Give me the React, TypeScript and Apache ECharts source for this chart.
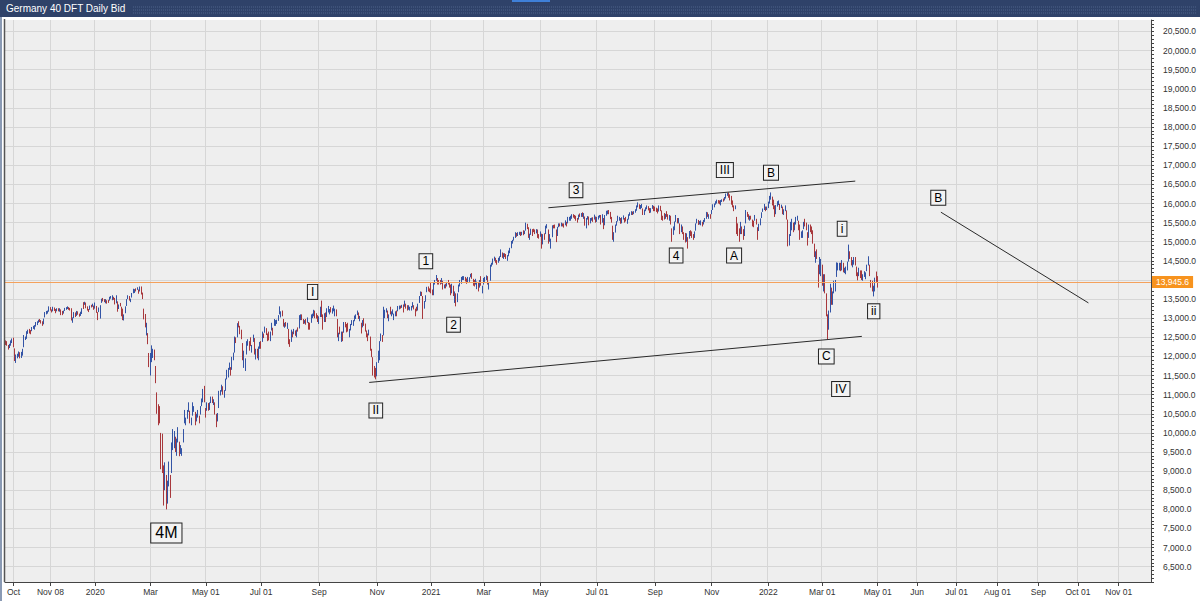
import React, { useEffect, useRef } from "react";
import * as echarts from "echarts";

// ---------- calendar ----------
const firstDay = "2019-09-23";
const lastTradingDay = "2022-05-02";
const lastAxisDay = "2022-11-25";
const closedDays = [
  "2019-12-24", "2019-12-25", "2019-12-26", "2019-12-31", "2020-01-01",
  "2020-04-10", "2020-04-13", "2020-05-01", "2020-12-24", "2020-12-25",
  "2020-12-31", "2021-01-01", "2021-04-02", "2021-04-05", "2021-12-24",
  "2021-12-31", "2022-04-15", "2022-04-18",
];

// tick labels: [first date on or after, text]
const tickLabels: [string, string][] = [
  ["2019-10-01", "Oct"], ["2019-11-08", "Nov 08"], ["2020-01-01", "2020"],
  ["2020-03-01", "Mar"], ["2020-05-01", "May 01"], ["2020-07-01", "Jul 01"],
  ["2020-09-01", "Sep"], ["2020-11-01", "Nov"], ["2021-01-01", "2021"],
  ["2021-03-01", "Mar"], ["2021-05-01", "May"], ["2021-07-01", "Jul 01"],
  ["2021-09-01", "Sep"], ["2021-11-01", "Nov"], ["2022-01-01", "2022"],
  ["2022-03-01", "Mar 01"], ["2022-05-01", "May 01"], ["2022-06-01", "Jun"],
  ["2022-07-01", "Jul 01"], ["2022-08-01", "Aug 01"], ["2022-09-01", "Sep"],
  ["2022-10-01", "Oct 01"], ["2022-11-01", "Nov 01"],
];

// y labels hidden behind the last-price tag
const hiddenYLabels = [14000];

// ---------- daily candles [open, close, low, high] ----------
const ohlc2019 = [
  [12380,12342,12300,12420],[12350,12307,12280,12400],[12270,12234,12180,12300],[12260,12289,12220,12330],[12300,12381,12280,12420],[12370,12428,12350,12470],
  [12430,12263,12240,12490],[12200,11925,11880,12210],[11900,12014,11830,12050],[12000,12013,11950,12070],[12050,12097,11990,12130],[12080,11970,11950,12110],[11990,12094,11960,12120],[12080,12164,12020,12200],[12250,12512,12240,12560],[12480,12486,12430,12520],[12500,12629,12460,12660],[12610,12670,12590,12700],[12680,12654,12600,12720],[12660,12634,12580,12690],[12680,12748,12660,12770],[12750,12754,12720,12800],[12730,12798,12700,12820],[12820,12872,12780,12900],[12860,12895,12820,12920],[12910,12941,12880,12960],[12940,12939,12900,12980],[12920,12910,12860,12950],[12900,12867,12800,12920],
  [12870,12961,12840,12990],[13030,13136,13020,13160],[13140,13148,13100,13190],[13150,13179,13120,13200],[13190,13289,13170,13310],[13270,13228,13200,13290],[13200,13198,13150,13230],[13210,13283,13180,13300],[13260,13230,13190,13280],[13220,13180,13130,13240],[13200,13241,13180,13260],[13240,13207,13180,13260],[13220,13221,13170,13260],[13200,13168,13080,13230],[13150,13137,13080,13190],[13150,13163,13120,13200],[13200,13247,13190,13270],[13250,13264,13220,13290],[13270,13287,13240,13310],[13280,13245,13220,13290],[13240,13236,13200,13270],
  [13240,12965,12940,13260],[12950,12989,12880,13020],[13020,13140,13000,13160],[13130,13055,13030,13150],[13080,13167,13060,13190],[13160,13106,13090,13180],[13100,13071,13040,13120],[13080,13146,13060,13170],[13150,13222,13110,13260],[13300,13283,13240,13420],[13380,13407,13350,13430],[13400,13288,13260,13410],[13290,13222,13200,13310],[13220,13212,13160,13240],[13240,13319,13220,13330],[13320,13301,13280,13350],[13320,13337,13300,13380],[13320,13249,13220,13330],
];
const ohlc2020 = [
  [13260,13386,13250,13410],[13290,13219,13140,13320],[13150,13127,12950,13160],[13180,13227,13160,13280],[13100,13321,12990,13340],[13420,13495,13400,13510],[13500,13483,13440,13530],[13480,13452,13420,13500],[13450,13456,13390,13500],[13440,13432,13380,13470],[13450,13430,13400,13480],[13470,13526,13460,13560],[13530,13548,13510,13580],[13540,13556,13470,13600],[13530,13515,13480,13560],[13510,13389,13360,13530],[13400,13577,13390,13600],[13420,13205,13170,13440],[13250,13324,13240,13360],[13350,13345,13310,13400],[13290,13158,13050,13300],[13220,12982,12950,13250],
  [13010,13045,12940,13100],[13150,13282,13130,13310],[13330,13478,13320,13500],[13510,13575,13500,13600],[13550,13514,13460,13580],[13450,13494,13420,13510],[13550,13628,13540,13660],[13660,13750,13650,13770],[13710,13746,13660,13760],[13760,13745,13700,13780],[13770,13784,13740,13810],[13730,13681,13640,13750],[13710,13789,13700,13830],[13800,13665,13620,13830],[13640,13579,13500,13670],[13240,13035,12970,13250],[13080,12790,12760,13110],[12650,12775,12550,12880],[12580,12367,12320,12610],[11960,11890,11720,12090],
  [11800,11857,11500,12090],[11960,12128,11850,12290],[12050,12127,11960,12200],[12100,11944,11900,12180],[11620,11541,11300,11750],[11050,10625,10500,11060],[10600,10475,10200,10750],[10550,10439,10250,10700],[9850,9161,9050,10000],[9400,9232,8950,9980],[8990,8742,8100,9150],[8650,8939,8500,9230],[8800,8442,8000,8900],[8400,8610,8150,8750],[8700,8929,8600,9250],[8800,8741,8300,8900],[9000,9701,8950,9750],[9600,9874,9550,10100],[9750,10000,9600,10050],[9800,9633,9500,9900],[9650,9816,9400,9850],[9850,9936,9750,10150],
  [9700,9544,9390,9770],[9500,9571,9450,9680],[9500,9525,9400,9600],[9800,10075,9750,10100],[10250,10357,10250,10600],[10300,10333,10200,10400],[10400,10565,10370,10600],[10650,10697,10550,10800],[10500,10280,10250,10580],[10300,10301,10200,10400],[10500,10626,10450,10800],[10600,10676,10550,10700],[10500,10250,10200,10550],[10350,10416,10300,10500],[10500,10514,10400,10600],[10400,10336,10250,10450],[10500,10659,10480,10700],[10750,10796,10700,10900],[10850,11107,10800,11150],[11050,10862,10800,11230],
  [10600,10467,10400,10650],[10600,10730,10580,10800],[10750,10607,10580,10780],[10650,10759,10600,10800],[10800,10904,10780,10950],[10900,10825,10780,10950],[10800,10820,10730,10880],[10750,10543,10480,10800],[10450,10337,10150,10500],[10400,10465,10300,10520],[10700,11058,10650,11100],[11050,11075,10980,11120],[11100,11223,11080,11260],[11200,11066,11000,11220],[11000,11074,10920,11120],[11150,11391,11100,11420],[11450,11504,11400,11650],[11500,11657,11450,11700],[11700,11781,11650,11840],[11700,11586,11500,11720],
  [11700,11945,11650,11990],[11950,12021,11900,12100],[12150,12487,12100,12520],[12450,12431,12350,12500],[12550,12848,12500,12870],[12850,12820,12760,12920],[12750,12617,12580,12800],[12650,12530,12450,12700],[12300,11970,11900,12350],[11750,11949,11700,12150],[11800,11911,11620,11950],[12100,12316,12050,12400],[12350,12382,12280,12450],[12300,12281,12150,12400],[12350,12331,12270,12500],[12200,12262,12100,12300],[12400,12523,12380,12570],[12450,12093,12050,12480],[12050,12178,11920,12200],[12150,12089,11950,12200],[12050,12232,11900,12260],[12250,12311,12200,12380],
  [12350,12261,12200,12400],[12400,12608,12380,12650],[12550,12528,12480,12600],[12650,12733,12620,12780],[12720,12616,12560,12740],[12550,12495,12400,12600],[12600,12489,12420,12650],[12450,12633,12400,12650],[12700,12799,12680,12880],[12700,12697,12550,12750],[12850,12931,12800,12980],[12850,12875,12800,12950],[12900,12920,12850,12960],[12950,13046,12930,13080],[13150,13171,13100,13310],[13100,13104,13020,13180],[13150,13103,13050,13200],[12950,12838,12780,12980],[12800,12839,12750,12880],[12850,12835,12780,12900],[12800,12822,12720,12880],[12700,12379,12320,12720],[12400,12313,12250,12450],
  [12400,12647,12380,12700],[12600,12600,12500,12650],[12650,12661,12580,12720],[12640,12591,12540,12680],[12550,12674,12500,12700],[12700,12687,12650,12760],[12750,13053,12730,13080],[13000,13058,12950,13100],[13050,12993,12950,13100],[12950,12901,12850,12980],[12900,12920,12860,12950],[12950,12881,12830,12980],[12900,12977,12880,13020],[12850,12830,12700,12900],[12850,12764,12700,12880],[12900,13067,12880,13100],[13050,13062,13000,13120],[13100,13190,13050,13220],[13150,13096,13000,13200],[13100,13033,12990,13130],[13050,12945,12900,13080],
  [12950,12974,12850,13050],[13050,13243,13030,13300],[13300,13057,13030,13460],[13000,12842,12700,13100],[12950,13100,12900,13130],[13050,12968,12900,13150],[13050,13237,13030,13260],[13200,13208,13150,13320],[13150,13202,13100,13240],[13250,13194,13150,13290],[13200,13218,13120,13260],[13250,13255,13180,13330],[13150,13208,13050,13250],[13150,13116,13050,13230],[12950,12542,12500,12980],[12550,12594,12400,12620],[12650,12642,12580,12780],[12500,12607,12380,12650],[12600,12469,12400,12650],[12650,12871,12620,12900],[12850,12825,12760,12900],[12800,12761,12630,12850],
  [12800,12730,12650,12880],[12600,12689,12500,12720],[12700,12828,12680,12850],[12850,12906,12820,12950],[12850,12928,12800,12950],[12950,13042,12920,13070],[13050,13051,12980,13100],[13100,13139,13080,13200],[13100,13018,12980,13150],[13000,13028,12920,13060],[12850,12704,12600,12880],[12800,12909,12760,12950],[12950,12854,12800,13000],[12800,12737,12650,12860],[12650,12558,12500,12680],[12550,12543,12400,12600],[12600,12646,12550,12700],[12500,12178,12150,12520],[12150,12063,11980,12200],[11950,11561,11500,11980],[11650,11598,11450,11750],[11600,11556,11400,11700],
  [11600,11789,11480,11850],[11850,12089,11830,12150],[12000,12324,11900,12400],[12450,12568,12400,12600],[12500,12480,12380,12560],[12600,13095,12550,13300],[13050,13163,13000,13220],[13200,13217,13150,13260],[13150,13052,13000,13200],[12950,13077,12920,13100],[13200,13139,13100,13300],[13100,13133,13050,13180],[13150,13201,13100,13230],[13050,13087,12950,13120],[13100,13137,13050,13180],[13150,13127,13050,13200],[13200,13292,13180,13320],[13280,13290,13230,13330],[13300,13286,13250,13330],[13300,13335,13270,13350],[13320,13291,13150,13360],
  [13350,13382,13300,13460],[13350,13313,13250,13380],[13300,13252,13200,13340],[13250,13299,13220,13340],[13250,13271,13200,13300],[13250,13278,13200,13320],[13300,13340,13280,13420],[13300,13296,13230,13340],[13200,13114,13050,13250],[13250,13223,13180,13300],[13250,13362,13200,13380],[13450,13565,13400,13580],[13600,13667,13580,13700],[13650,13631,13580,13690],[13550,13246,12980,13580],[13300,13418,13250,13450],[13450,13587,13430,13600],[13700,13790,13680,13820],[13800,13761,13700,13830],[13750,13719,13680,13780],
];
const ohlc2021 = [
  [13750,13727,13650,13920],[13700,13651,13600,13750],[13650,13892,13600,13920],[13900,13968,13880,14000],[14000,14050,13980,14130],[14000,13937,13880,14050],[13950,13925,13880,14000],[13950,13940,13880,14000],[13950,13989,13900,14050],[13950,13788,13750,13980],[13800,13848,13780,13880],[13850,13815,13780,13900],[13850,13922,13830,13950],[13950,13906,13880,14000],[13900,13874,13800,13920],[13850,13644,13600,13880],[13700,13871,13650,13900],[13800,13621,13580,13850],[13550,13665,13400,13700],[13600,13433,13310,13650],
  [13450,13622,13420,13650],[13700,13836,13680,13880],[13850,13934,13830,14000],[13950,14061,13900,14080],[14050,14057,14000,14100],[14050,14060,14000,14100],[14050,14012,13960,14080],[14000,13933,13900,14040],[13950,14040,13920,14080],[14000,14050,13950,14070],[14100,14109,14070,14160],[14120,14064,14030,14180],[14000,13909,13850,14030],[13950,13887,13830,14000],[13900,13993,13880,14030],[13900,13950,13760,13960],[13900,13865,13700,13950],[13850,13976,13800,14000],[14000,13879,13850,14100],[13750,13786,13650,13850],
  [13900,14012,13880,14050],[14000,14039,13950,14080],[14050,14080,14000,14120],[14050,13920,13880,14100],[13850,13920,13750,13950],[14000,14380,13980,14400],[14380,14437,14350,14450],[14450,14540,14400,14560],[14550,14569,14500,14610],[14550,14502,14450,14580],[14500,14461,14400,14520],[14480,14557,14450,14580],[14560,14596,14500,14620],[14650,14775,14600,14800],[14700,14621,14580,14720],[14600,14657,14550,14700],[14680,14662,14600,14700],[14650,14610,14550,14680],[14550,14621,14500,14650],[14650,14748,14620,14770],[14750,14817,14700,14840],[14850,15008,14830,15020],[15000,15008,14950,15050],
  [15050,15107,15030,15130],[15150,15212,15100,15250],[15200,15176,15130,15230],[15180,15203,15150,15250],[15200,15234,15180,15260],[15230,15215,15150,15260],[15200,15234,15170,15260],[15250,15209,15170,15300],[15230,15255,15200,15290],[15300,15460,15290,15500],[15450,15368,15330,15470],[15350,15130,15100,15380],[15100,15196,15050,15210],[15200,15320,15180,15340],[15300,15280,15150,15330],[15300,15296,15250,15340],[15300,15249,15200,15320],[15250,15292,15220,15330],[15300,15155,15100,15320],[15150,15136,15080,15200],
  [15150,15236,15130,15270],[15200,14856,14820,15210],[14950,15171,14930,15200],[15200,15197,15050,15220],[15250,15400,15200,15420],[15400,15400,15350,15460],[15300,15120,14950,15320],[15150,15151,15000,15200],[15000,15031,14820,15080],[15150,15417,15120,15430],[15400,15397,15350,15440],[15400,15386,15350,15450],[15300,15114,14990,15320],[15200,15370,15150,15390],[15400,15437,15380,15480],[15450,15437,15400,15480],[15460,15465,15400,15500],[15450,15450,15400,15480],[15450,15407,15370,15480],[15450,15520,15430,15560],[15500,15421,15400,15520],
  [15500,15603,15480,15650],[15600,15602,15550,15650],[15600,15633,15550,15680],[15650,15693,15600,15720],[15680,15677,15630,15720],[15680,15640,15600,15700],[15650,15581,15550,15680],[15580,15571,15500,15620],[15600,15693,15580,15710],[15700,15674,15650,15740],[15700,15729,15650,15750],[15720,15711,15650,15770],[15650,15727,15600,15750],[15650,15448,15420,15660],[15400,15603,15350,15620],[15620,15636,15580,15670],[15650,15456,15430,15660],[15500,15589,15480,15620],[15600,15607,15550,15630],[15600,15554,15520,15640],[15600,15691,15580,15710],[15650,15531,15500,15660],
  [15550,15603,15520,15650],[15620,15650,15580,15680],[15650,15661,15630,15700],[15680,15511,15450,15700],[15550,15692,15500,15720],[15600,15420,15330,15620],[15450,15688,15430,15700],[15700,15790,15680,15810],[15780,15790,15720,15820],[15800,15788,15720,15830],[15750,15630,15590,15780],[15600,15540,15500,15650],[15400,15133,15050,15420],[15150,15216,15000,15250],[15250,15422,15240,15450],[15450,15514,15420,15540],[15550,15669,15530,15680],[15600,15618,15550,15650],[15600,15519,15470,15620],[15550,15571,15480,15640],[15620,15640,15580,15690],[15600,15544,15500,15620],
  [15600,15568,15530,15650],[15550,15555,15470,15600],[15600,15692,15580,15720],[15700,15744,15680,15770],[15740,15761,15700,15800],[15760,15745,15700,15790],[15750,15770,15720,15800],[15780,15826,15760,15850],[15830,15937,15810,15950],[15930,15977,15900,16030],[15950,15925,15860,15980],[15900,15921,15850,15960],[15930,15965,15880,15990],[15850,15765,15700,15870],[15750,15808,15700,15840],[15850,15852,15800,15900],[15880,15906,15850,15950],[15900,15860,15820,15930],[15850,15793,15750,15880],[15800,15852,15760,15880],[15880,15931,15860,15960],[15920,15835,15800,15940],
  [15880,15824,15800,15920],[15850,15840,15780,15890],[15850,15781,15740,15870],[15800,15932,15790,15950],[15900,15844,15800,15940],[15800,15610,15570,15820],[15650,15623,15550,15680],[15650,15609,15580,15750],[15650,15701,15600,15730],[15750,15722,15650,15800],[15700,15616,15580,15720],[15600,15652,15550,15700],[15650,15490,15450,15680],[15300,15132,15000,15350],[15200,15348,15180,15400],[15350,15506,15300,15530],[15550,15644,15520,15700],[15600,15532,15480,15620],[15550,15574,15480,15620],[15450,15249,15200,15480],[15300,15365,15250,15450],[15350,15261,15200,15400],
  [15200,15157,15050,15250],[15200,15037,14980,15230],[15050,15195,15000,15220],[15100,14973,14820,15120],[15100,15251,15080,15280],[15250,15207,15150,15300],[15200,15200,15100,15270],[15150,15147,15050,15200],[15150,15250,15100,15270],[15300,15462,15290,15480],[15500,15587,15480,15600],[15550,15474,15440,15570],[15500,15516,15450,15540],[15500,15523,15430,15560],[15500,15473,15400,15520],[15500,15543,15450,15570],[15550,15600,15520,15620],[15620,15757,15600,15780],[15750,15705,15650,15770],[15680,15696,15600,15720],[15700,15689,15600,15720],
  [15750,15807,15720,15830],[15850,15955,15830,15980],[15950,15959,15900,16000],[16000,16030,15970,16060],[16050,16054,16000,16100],[16060,16047,16000,16090],[16050,16040,15980,16080],[16030,16067,15950,16090],[16080,16083,16040,16110],[16100,16094,16050,16130],[16100,16148,16080,16170],[16160,16248,16130,16260],[16250,16251,16200,16280],[16250,16221,16150,16290],[16200,16160,16080,16240],[16150,16115,15970,16200],[16050,15937,15900,16080],[15900,15878,15800,15950],[15900,15917,15850,15950],[15600,15257,15200,15650],[15400,15280,15150,15480],[15250,15100,15000,15350],
  [15250,15473,15200,15520],[15350,15263,15200,15400],[15300,15170,15050,15330],[15200,15386,15150,15420],[15500,15813,15480,15830],[15750,15687,15650,15780],[15700,15639,15580,15720],[15600,15623,15550,15680],[15650,15621,15580,15680],[15550,15453,15400,15580],[15480,15476,15380,15550],[15600,15637,15550,15700],[15550,15532,15450,15600],[15350,15239,15050,15380],[15300,15447,15280,15470],[15450,15593,15430,15610],[15650,15756,15620,15770],[15800,15838,15780,15870],[15850,15964,15830,15990],[15900,15853,15800,15920],[15850,15885,15830,15920],
];
const ohlc2022 = [
  [15900,16021,15880,16050],[16050,16153,16000,16200],[16150,16271,16100,16290],[16150,16052,15950,16180],[16050,15948,15850,16100],[15900,15768,15650,15950],[15750,15942,15720,15960],[15950,16010,15920,16060],[16020,16031,15960,16080],[15950,15883,15830,15990],[15900,15934,15880,15970],[15900,15773,15720,15920],[15780,15810,15700,15850],[15850,15912,15800,15950],[15800,15603,15580,15820],[15550,15011,14880,15580],[15000,15124,14900,15200],[15200,15460,15150,15520],[15350,15525,15300,15600],[15450,15318,15250,15500],[15350,15471,15300,15520],
  [15500,15619,15450,15650],[15600,15613,15550,15680],[15500,15368,15300,15550],[15350,15100,15050,15450],[15150,15207,15100,15270],[15200,15242,15100,15300],[15350,15482,15330,15520],[15500,15490,15400,15600],[15450,15425,15300,15500],[15200,15113,14900,15250],[15150,15413,15100,15450],[15400,15370,15250,15450],[15350,15267,15200,15400],[15250,15042,14950,15300],[14900,14731,14600,14950],[14500,14693,14450,14750],[14750,14631,14550,14800],[14350,14052,13800,14400],[14200,14567,14150,14600],[14200,14461,14100,14550],
  [14300,13905,13850,14400],[13950,14000,13700,14150],[14100,13698,13650,14150],[13600,13094,13050,13650],[12900,12835,12440,13100],[12900,13007,12700,13200],[13200,13848,13150,13900],[13700,13443,13350,13800],[13500,13628,13350,13700],[13700,13929,13650,13980],[13800,13918,13700,14000],[14100,14440,14080,14460],[14350,14388,14250,14450],[14350,14413,14250,14450],[14400,14326,14230,14450],[14300,14473,14250,14520],[14400,14283,14200,14450],[14250,14274,14180,14320],[14250,14306,14150,14350],[14300,14418,14250,14480],[14500,14820,14480,14925],[14700,14606,14550,14750],[14550,14415,14380,14600],
  [14400,14447,14330,14520],[14500,14518,14400,14600],[14550,14424,14380,14600],[14300,14152,14100,14350],[14150,14079,13990,14200],[14150,14284,14100,14320],[14200,14193,14050,14250],[14150,14124,14000,14250],[14050,14076,13980,14150],[14150,14163,14080,14230],[14100,14154,14020,14200],[14250,14362,14230,14400],[14450,14502,14380,14620],[14350,14142,14100,14400],[13950,13924,13800,14000],[13950,13757,13700,13980],[13700,13795,13570,13850],[13800,13980,13700,14060],[14100,14098,13950,14220],
  [14050,13945.6,13800,14100],
];

const lastPrice = 13945.6;

// wave labels: [text, date, value, fontSize]
const waveLabels: [string, string, number, number][] = [
  ["4M", "2020-03-18", 7382, 16],
  ["I", "2020-08-25", 13688, 12],
  ["II", "2020-10-30", 10586, 12],
  ["1", "2020-12-23", 14490, 12],
  ["2", "2021-01-27", 12831, 12],
  ["3", "2021-06-09", 16350, 12],
  ["4", "2021-09-23", 14639, 12],
  ["III", "2021-11-15", 16874, 12],
  ["A", "2021-11-24", 14639, 12],
  ["B", "2022-01-05", 16806, 12],
  ["C", "2022-03-04", 11999, 12],
  ["IV", "2022-03-21", 11147, 12],
  ["i", "2022-03-22", 15339, 12],
  ["ii", "2022-04-27", 13180, 12],
  ["B", "2022-06-17", 16151, 12],
];

// trend lines: [date1, value1, date2, value2]
const trendLines: [string, number, string, number][] = [
  ["2021-05-11", 15889, "2022-04-05", 16586],
  ["2020-10-23", 11320, "2022-04-12", 12525],
  ["2022-06-19", 15773, "2022-10-09", 13400],
];

// ---------- helpers ----------
function buildCategories(): string[] {
  const cats: string[] = [];
  const closed = new Set(closedDays);
  const endTrade = Date.parse(lastTradingDay + "T00:00:00Z");
  const endAxis = Date.parse(lastAxisDay + "T00:00:00Z");
  for (let t = Date.parse(firstDay + "T00:00:00Z"); t <= endAxis; t += 86400000) {
    const d = new Date(t);
    const s = d.toISOString().slice(0, 10);
    const wd = d.getUTCDay();
    if (t <= endTrade) {
      if (wd !== 0 && wd !== 6 && !closed.has(s)) cats.push(s);
    } else {
      cats.push(s);
    }
  }
  return cats;
}

function fmtNum(v: number): string {
  const s = v.toFixed(1);
  const [i, f] = s.split(".");
  return i.replace(/\B(?=(\d{3})+(?!\d))/g, ",") + "." + f;
}

const FONT = "'Liberation Sans', Arial, sans-serif";

export default function App() {
  const ref = useRef<HTMLDivElement>(null);

  useEffect(() => {
    if (!ref.current) return;
    const chart = echarts.init(ref.current, undefined, { renderer: "svg" });

    const cats = buildCategories();
    const idxOf = (date: string) => {
      for (let i = 0; i < cats.length; i++) if (cats[i] >= date) return i;
      return cats.length - 1;
    };
    const labelMap = new Map<number, string>();
    tickLabels.forEach(([d, t]) => labelMap.set(idxOf(d), t));
    const isTick = (i: number) => labelMap.has(i);

    const candles = [...ohlc2019, ...ohlc2020, ...ohlc2021, ...ohlc2022];

    const gridGray = "#d6d6d6";
    const clear = "rgba(0,0,0,0)";

    const option: any = {
      animation: false,
      backgroundColor: "#ffffff",
      grid: {
        left: 5,
        right: 49,
        top: 20,
        bottom: 19,
        show: true,
        backgroundColor: "#eeeeee",
        borderWidth: 0,
        containLabel: false,
      },
      xAxis: {
        type: "category",
        data: cats,
        boundaryGap: true,
        axisLine: { show: true, lineStyle: { color: "#444", width: 1 } },
        axisTick: {
          show: true,
          interval: (i: number) => isTick(i),
          alignWithLabel: true,
          length: 4,
          lineStyle: { color: "#444" },
        },
        axisLabel: {
          show: true,
          interval: (i: number) => isTick(i),
          formatter: (_v: string, i: number) => labelMap.get(i) || "",
          fontFamily: FONT,
          fontSize: 8.5,
          color: "#333",
          margin: 5,
        },
        splitLine: {
          show: true,
          interval: (i: number) => isTick(i),
          lineStyle: { color: gridGray, width: 1 },
        },
      },
      yAxis: {
        type: "value",
        position: "right",
        min: 6100,
        max: 20800,
        interval: 100,
        scale: true,
        axisLine: { show: true, lineStyle: { color: "#444", width: 1 } },
        axisTick: { show: true, length: 3, inside: false, lineStyle: { color: "#444" } },
        axisLabel: {
          show: true,
          formatter: (v: number) => {
            const r = Math.round(v);
            if (r % 500 !== 0 || hiddenYLabels.includes(r)) return "";
            return fmtNum(v);
          },
          fontFamily: FONT,
          fontSize: 8.5,
          color: "#333",
          margin: 12,
        },
        splitLine: {
          show: true,
          lineStyle: { color: [clear, clear, clear, clear, gridGray], width: 1 },
        },
      },
      graphic: [
        { type: "rect", z: 100, shape: { x: 0, y: 0, width: 1200, height: 17 }, style: { fill: "#2f4269" } },
        { type: "rect", z: 101, shape: { x: 512, y: 0, width: 38, height: 2 }, style: { fill: "#3f80d8" } },
        { type: "line", z: 101, shape: { x1: 133, y1: 7, x2: 1196, y2: 7 }, style: { stroke: "#4f628a", lineWidth: 1, lineDash: [1, 1] } },
        { type: "line", z: 101, shape: { x1: 133, y1: 10, x2: 1196, y2: 10 }, style: { stroke: "#4f628a", lineWidth: 1, lineDash: [1, 1] } },
        { type: "line", z: 101, shape: { x1: 133, y1: 13, x2: 1196, y2: 13 }, style: { stroke: "#4f628a", lineWidth: 1, lineDash: [1, 1] } },
        {
          type: "text", z: 102, x: 6, y: 8.5,
          style: { text: "Germany 40 DFT Daily Bid", fill: "#ffffff", font: "10px 'Liberation Sans', Arial, sans-serif", textVerticalAlign: "middle" },
        },
        { type: "rect", z: 100, shape: { x: 0, y: 17, width: 2, height: 584 }, style: { fill: "#8a9ab4" } },
        { type: "line", z: 100, shape: { x1: 4.5, y1: 19, x2: 4.5, y2: 582 }, style: { stroke: "#555", lineWidth: 1.5 } },
      ],
      series: [
        {
          type: "candlestick",
          data: candles,
          large: false,
          progressive: 0,
          barWidth: 1,
          itemStyle: {
            color: "#3354a6",
            color0: "#a8383c",
            borderColor: "#3354a6",
            borderColor0: "#a8383c",
            borderWidth: 1,
          },
          markLine: {
            silent: true,
            symbol: ["none", "none"],
            animation: false,
            data: [
              {
                yAxis: lastPrice,
                lineStyle: { color: "#f4a15c", width: 1, type: "solid" },
                label: {
                  show: true,
                  position: "end",
                  formatter: fmtNum(lastPrice),
                  backgroundColor: "#f7931e",
                  color: "#ffffff",
                  fontFamily: FONT,
                  fontSize: 8.5,
                  padding: [2, 4, 1, 4],
                  distance: 1,
                },
              },
              ...trendLines.map(([d1, v1, d2, v2]) => [
                { coord: [idxOf(d1), v1], lineStyle: { color: "#2a2a2a", width: 1, type: "solid" }, label: { show: false } },
                { coord: [idxOf(d2), v2] },
              ]),
            ],
          },
        },
        {
          type: "scatter",
          data: waveLabels.map(([t, d, v, fs]) => ({
            value: [idxOf(d), v],
            name: t,
            label: { fontSize: fs, padding: fs > 12 ? [2, 4, 1, 4] : [1, 3, 1, 3] },
          })),
          symbolSize: 1,
          itemStyle: { color: clear, opacity: 1 },
          silent: true,
          z: 10,
          label: {
            show: true,
            position: "inside",
            formatter: (p: any) => p.name,
            fontFamily: FONT,
            color: "#000000",
            opacity: 1,
            textBorderWidth: 0,
            borderColor: "#222222",
            borderWidth: 1,
            backgroundColor: "#f3f3f3",
          },
        },
      ],
    };

    chart.setOption(option);
    return () => chart.dispose();
  }, []);

  return (
    <div style={{ position: "absolute", left: 0, top: 0, width: 1200, height: 601, background: "#fff" }}>
      <div ref={ref} style={{ width: 1200, height: 601 }} />
    </div>
  );
}
